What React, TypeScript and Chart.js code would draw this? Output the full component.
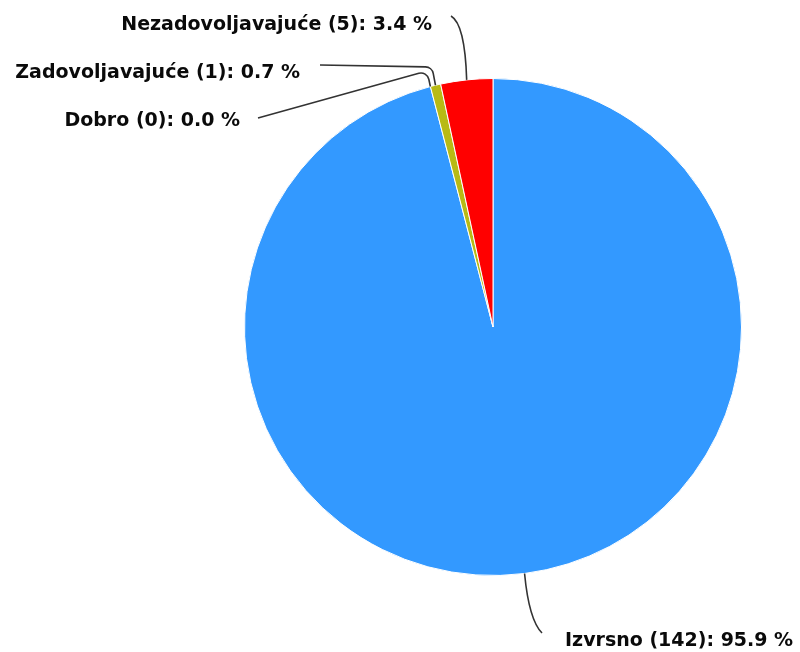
import React, { useEffect, useRef } from "react";
import { Chart, registerables } from "chart.js";

Chart.register(...registerables);

const categories = ["Izvrsno", "Dobro", "Zadovoljavajuće", "Nezadovoljavajuće"];
const counts = [142, 0, 1, 5];
const colors = ["#3399FF", "#8FD14F", "#B8BA14", "#FF0000"];

// label layout: text anchor (baseline), alignment, leader start, bend/control point (canvas px)
const labelLayout = [
  { tx: 565, ty: 646, align: "left", sx: 542, sy: 633, bx: 529, by: 620, r: 0, curve: "quad" },
  { tx: 240, ty: 126, align: "right", sx: 258, sy: 118, bx: 427, by: 71, r: 8, curve: "arc" },
  { tx: 300, ty: 78, align: "right", sx: 320, sy: 65, bx: 432, by: 67, r: 8, curve: "arc" },
  { tx: 432, ty: 30, align: "right", sx: 451, sy: 16, bx: 465, by: 24, r: 0, curve: "quad" },
];

const labelPlugin = {
  id: "pieLabels",
  afterDatasetsDraw(chart: any) {
    const ctx = chart.ctx;
    const meta = chart.getDatasetMeta(0);
    const data = chart.data.datasets[0].data as number[];
    const total = data.reduce((a, b) => a + b, 0);
    ctx.save();
    ctx.font = "bold 19px 'DejaVu Sans'";
    ctx.fillStyle = "#0a0a0a";
    ctx.textBaseline = "alphabetic";
    meta.data.forEach((arc: any, i: number) => {
      const L = labelLayout[i];
      const mid = (arc.startAngle + arc.endAngle) / 2;
      const ex = arc.x + Math.cos(mid) * arc.outerRadius;
      const ey = arc.y + Math.sin(mid) * arc.outerRadius;
      ctx.strokeStyle = "#333";
      ctx.lineWidth = 1.6;
      ctx.beginPath();
      ctx.moveTo(L.sx, L.sy);
      if (L.curve === "arc") {
        ctx.arcTo(L.bx, L.by, ex, ey, L.r);
        ctx.lineTo(ex, ey);
      } else {
        ctx.quadraticCurveTo(L.bx, L.by, ex, ey);
      }
      ctx.stroke();
      const pct = ((data[i] / total) * 100).toFixed(1);
      ctx.textAlign = L.align;
      ctx.fillText(`${categories[i]} (${data[i]}): ${pct} %`, L.tx, L.ty);
    });
    ctx.restore();
  },
};

export default function App() {
  const ref = useRef<HTMLCanvasElement>(null);
  useEffect(() => {
    const chart = new Chart(ref.current!, {
      type: "pie",
      data: {
        labels: categories,
        datasets: [
          {
            data: counts,
            backgroundColor: colors,
            borderColor: "#ffffff",
            borderWidth: 1,
          },
        ],
      },
      options: {
        animation: false,
        responsive: false,
        layout: { padding: { left: 244, right: 58, top: 78, bottom: 76 } },
        plugins: { legend: { display: false }, tooltip: { enabled: false } },
      },
      plugins: [labelPlugin],
    });
    return () => chart.destroy();
  }, []);
  return (
    <div style={{ position: "fixed", left: 0, top: 0, width: 800, height: 652, background: "#fff" }}>
      <canvas ref={ref} width={800} height={652} />
    </div>
  );
}
